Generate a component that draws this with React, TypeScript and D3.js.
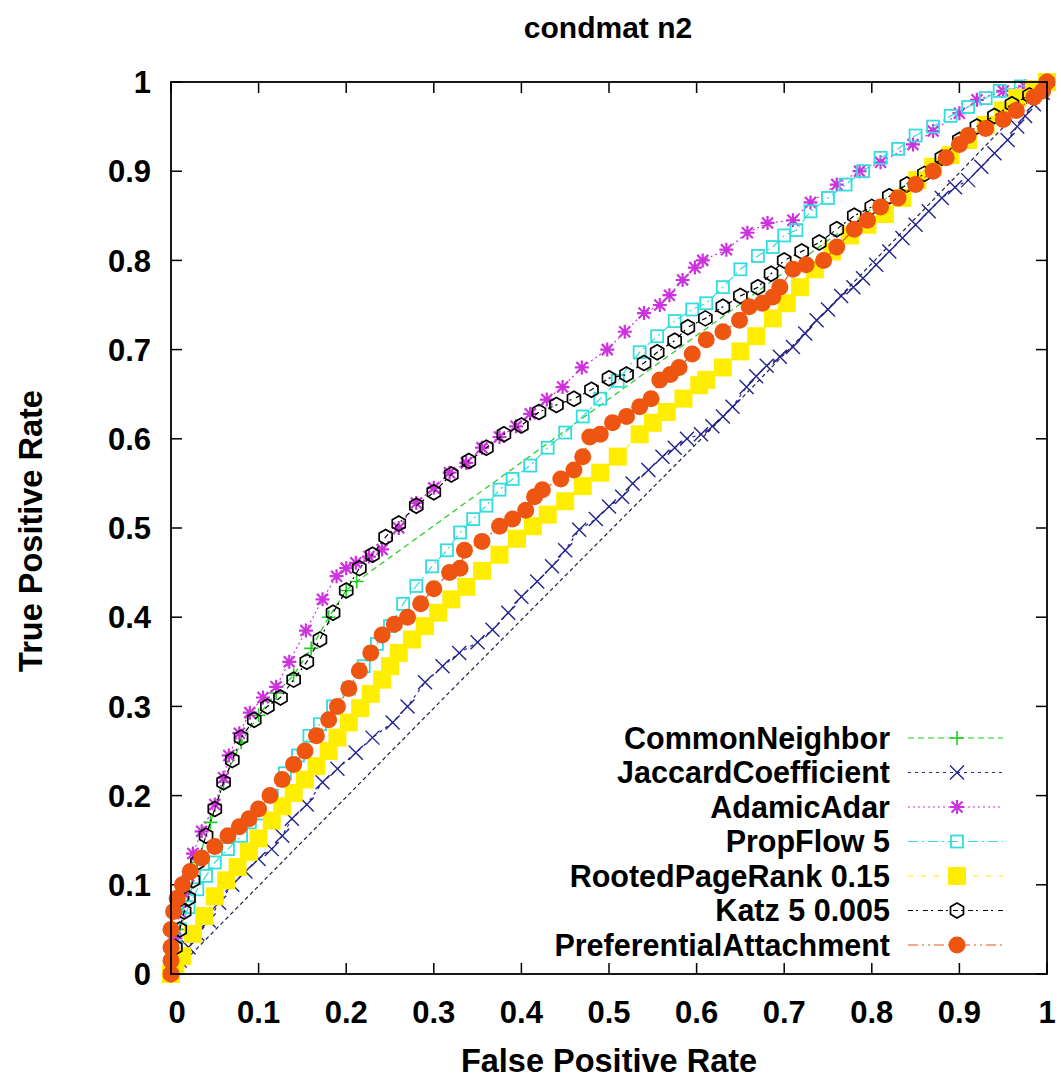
import React from "react";
import * as d3 from "d3";

type Pt = [number, number];

const chartTitle = "condmat n2";
const xLabel = "False Positive Rate";
const yLabel = "True Positive Rate";

const tickValues = [0, 0.1, 0.2, 0.3, 0.4, 0.5, 0.6, 0.7, 0.8, 0.9, 1];
const tickLabels = ["0", "0.1", "0.2", "0.3", "0.4", "0.5", "0.6", "0.7", "0.8", "0.9", "1"];

// [false positive rate, true positive rate]
const commonNeighbor: Pt[] = [
  [0, 0], [0.01, 0.05], [0.02, 0.09], [0.03, 0.125], [0.045, 0.17], [0.06, 0.215], [0.08, 0.26],
  [0.1, 0.29], [0.12, 0.315], [0.14, 0.335], [0.16, 0.365], [0.18, 0.4], [0.2, 0.43], [0.212, 0.44], [1, 1],
];

const jaccardCoefficient: Pt[] = [
  [0, 0], [0.01, 0.015], [0.02, 0.03], [0.03, 0.045], [0.043, 0.06], [0.055, 0.08], [0.07, 0.1], [0.085, 0.115],
  [0.1, 0.129], [0.115, 0.14], [0.127, 0.155], [0.138, 0.174], [0.155, 0.19], [0.173, 0.215], [0.19, 0.23],
  [0.211, 0.248], [0.23, 0.265], [0.253, 0.282], [0.27, 0.3], [0.29, 0.327], [0.31, 0.345], [0.329, 0.36],
  [0.35, 0.372], [0.367, 0.386], [0.385, 0.405], [0.4, 0.423], [0.418, 0.44], [0.435, 0.457], [0.45, 0.475],
  [0.466, 0.498], [0.485, 0.51], [0.5, 0.524], [0.515, 0.535], [0.527, 0.55], [0.545, 0.565], [0.561, 0.58],
  [0.575, 0.59], [0.589, 0.6], [0.605, 0.605], [0.618, 0.614], [0.63, 0.625], [0.641, 0.636], [0.657, 0.658],
  [0.668, 0.67], [0.68, 0.682], [0.695, 0.692], [0.71, 0.703], [0.724, 0.718], [0.737, 0.733], [0.75, 0.745],
  [0.765, 0.76], [0.779, 0.77], [0.79, 0.78], [0.805, 0.795], [0.82, 0.81], [0.835, 0.825], [0.85, 0.84],
  [0.865, 0.855], [0.88, 0.87], [0.895, 0.882], [0.91, 0.89], [0.925, 0.905], [0.94, 0.92], [0.955, 0.935],
  [0.966, 0.95], [0.975, 0.962], [0.985, 0.975], [0.995, 0.988], [1, 1],
];

// long tie segment running near the diagonal
const jaccardTies: Pt[] = [[0, 0], [0.021, 0.02], [0.318, 0.316], [0.653, 0.647], [1, 1]];

const adamicAdar: Pt[] = [
  [0, 0], [0.005, 0.04], [0.01, 0.07], [0.015, 0.09], [0.02, 0.11], [0.025, 0.135], [0.035, 0.16], [0.05, 0.19],
  [0.06, 0.22], [0.066, 0.245], [0.078, 0.27], [0.09, 0.293], [0.105, 0.31], [0.12, 0.322], [0.135, 0.35],
  [0.154, 0.385], [0.173, 0.42], [0.189, 0.446], [0.2, 0.455], [0.211, 0.461], [0.226, 0.468], [0.241, 0.476],
  [0.26, 0.5], [0.28, 0.528], [0.3, 0.545], [0.318, 0.562], [0.337, 0.573], [0.355, 0.59], [0.375, 0.602],
  [0.394, 0.614], [0.41, 0.628], [0.429, 0.644], [0.447, 0.658], [0.469, 0.68], [0.498, 0.7], [0.518, 0.72],
  [0.54, 0.741], [0.558, 0.75], [0.569, 0.761], [0.584, 0.778], [0.598, 0.792], [0.607, 0.8], [0.634, 0.812],
  [0.658, 0.831], [0.681, 0.842], [0.71, 0.845], [0.73, 0.865], [0.76, 0.885], [0.786, 0.9], [0.81, 0.91],
  [0.847, 0.93], [0.87, 0.945], [0.9, 0.965], [0.92, 0.98], [0.95, 0.99], [0.975, 0.995], [1, 1],
];

const propFlow: Pt[] = [
  [0, 0], [0.005, 0.03], [0.01, 0.05], [0.02, 0.075], [0.03, 0.095], [0.04, 0.11], [0.05, 0.125], [0.065, 0.14],
  [0.08, 0.155], [0.09, 0.17], [0.1, 0.18], [0.115, 0.2], [0.13, 0.225], [0.145, 0.245], [0.158, 0.267],
  [0.17, 0.28], [0.185, 0.3], [0.203, 0.32], [0.22, 0.345], [0.235, 0.37], [0.25, 0.39], [0.265, 0.415],
  [0.28, 0.435], [0.298, 0.457], [0.315, 0.475], [0.33, 0.495], [0.345, 0.51], [0.36, 0.525], [0.375, 0.543],
  [0.39, 0.555], [0.41, 0.57], [0.43, 0.59], [0.45, 0.607], [0.47, 0.625], [0.49, 0.645], [0.51, 0.665],
  [0.535, 0.697], [0.555, 0.715], [0.575, 0.732], [0.595, 0.745], [0.611, 0.752], [0.63, 0.77], [0.65, 0.79],
  [0.67, 0.805], [0.687, 0.815], [0.7, 0.828], [0.714, 0.834], [0.73, 0.855], [0.75, 0.87], [0.77, 0.885],
  [0.79, 0.9], [0.81, 0.915], [0.83, 0.925], [0.85, 0.94], [0.87, 0.95], [0.89, 0.962], [0.91, 0.972],
  [0.93, 0.982], [0.946, 0.99], [0.97, 0.995], [1, 1],
];

const rootedPageRank: Pt[] = [
  [0, 0], [0.005, 0.01], [0.013, 0.02], [0.025, 0.045], [0.038, 0.065], [0.05, 0.087], [0.063, 0.105],
  [0.076, 0.12], [0.089, 0.137], [0.1, 0.152], [0.115, 0.172], [0.127, 0.188], [0.14, 0.203], [0.153, 0.218],
  [0.166, 0.233], [0.18, 0.25], [0.19, 0.265], [0.203, 0.282], [0.216, 0.298], [0.228, 0.314], [0.241, 0.33],
  [0.25, 0.345], [0.26, 0.36], [0.275, 0.375], [0.29, 0.39], [0.305, 0.405], [0.32, 0.42], [0.337, 0.434],
  [0.355, 0.452], [0.375, 0.47], [0.395, 0.488], [0.413, 0.502], [0.43, 0.515], [0.45, 0.53], [0.47, 0.547],
  [0.49, 0.562], [0.51, 0.58], [0.535, 0.605], [0.55, 0.618], [0.566, 0.63], [0.585, 0.645], [0.603, 0.66],
  [0.611, 0.666], [0.63, 0.68], [0.65, 0.698], [0.668, 0.715], [0.687, 0.735], [0.703, 0.752], [0.718, 0.77],
  [0.735, 0.79], [0.755, 0.81], [0.775, 0.828], [0.795, 0.84], [0.815, 0.852], [0.835, 0.87], [0.852, 0.89],
  [0.87, 0.905], [0.89, 0.918], [0.91, 0.935], [0.93, 0.952], [0.95, 0.968], [0.966, 0.982], [0.985, 0.992],
  [1, 1],
];

const katz: Pt[] = [
  [0, 0], [0.005, 0.03], [0.01, 0.05], [0.015, 0.07], [0.02, 0.085], [0.025, 0.105], [0.03, 0.125], [0.04, 0.155],
  [0.05, 0.185], [0.06, 0.215], [0.07, 0.24], [0.08, 0.265], [0.095, 0.285], [0.11, 0.3], [0.125, 0.31],
  [0.14, 0.33], [0.155, 0.35], [0.17, 0.375], [0.185, 0.405], [0.2, 0.43], [0.215, 0.455], [0.23, 0.47],
  [0.245, 0.49], [0.26, 0.505], [0.28, 0.525], [0.3, 0.54], [0.32, 0.56], [0.34, 0.575], [0.36, 0.59],
  [0.38, 0.605], [0.4, 0.615], [0.42, 0.63], [0.44, 0.638], [0.46, 0.645], [0.48, 0.655], [0.5, 0.668],
  [0.52, 0.672], [0.54, 0.685], [0.555, 0.697], [0.575, 0.71], [0.59, 0.725], [0.61, 0.735], [0.63, 0.748],
  [0.65, 0.76], [0.67, 0.77], [0.685, 0.785], [0.7, 0.8], [0.72, 0.81], [0.74, 0.82], [0.76, 0.835],
  [0.78, 0.85], [0.8, 0.86], [0.82, 0.872], [0.84, 0.885], [0.86, 0.897], [0.88, 0.915], [0.9, 0.935],
  [0.92, 0.95], [0.94, 0.962], [0.96, 0.975], [0.98, 0.985], [1, 1],
];

const preferentialAttachment: Pt[] = [
  [0, 0], [0, 0.015], [0, 0.03], [0, 0.05], [0.003, 0.07], [0.007, 0.085], [0.013, 0.1], [0.022, 0.115],
  [0.035, 0.13], [0.05, 0.143], [0.065, 0.155], [0.078, 0.165], [0.089, 0.174], [0.1, 0.185], [0.113, 0.2],
  [0.127, 0.218], [0.14, 0.235], [0.153, 0.25], [0.166, 0.267], [0.18, 0.285], [0.19, 0.3], [0.203, 0.32],
  [0.215, 0.34], [0.228, 0.36], [0.241, 0.38], [0.255, 0.392], [0.27, 0.4], [0.285, 0.415], [0.3, 0.432],
  [0.318, 0.45], [0.33, 0.455], [0.335, 0.475], [0.355, 0.485], [0.375, 0.502], [0.39, 0.51], [0.405, 0.52],
  [0.415, 0.535], [0.424, 0.543], [0.445, 0.555], [0.46, 0.565], [0.47, 0.58], [0.478, 0.602], [0.49, 0.605],
  [0.504, 0.618], [0.52, 0.625], [0.535, 0.636], [0.548, 0.645], [0.558, 0.666], [0.57, 0.672], [0.58, 0.68],
  [0.595, 0.695], [0.611, 0.711], [0.63, 0.72], [0.649, 0.733], [0.66, 0.748], [0.675, 0.752], [0.687, 0.759],
  [0.695, 0.77], [0.71, 0.79], [0.725, 0.795], [0.745, 0.8], [0.76, 0.815], [0.78, 0.835], [0.795, 0.845],
  [0.81, 0.86], [0.83, 0.87], [0.85, 0.885], [0.87, 0.9], [0.885, 0.915], [0.9, 0.93], [0.91, 0.94],
  [0.93, 0.948], [0.95, 0.958], [0.965, 0.968], [0.985, 0.983], [0.995, 0.99], [1, 1],
];

const legendNames = [
  "CommonNeighbor",
  "JaccardCoefficient",
  "AdamicAdar",
  "PropFlow 5",
  "RootedPageRank 0.15",
  "Katz 5 0.005",
  "PreferentialAttachment",
];

type MarkerKind = "plus" | "cross" | "star" | "square" | "fsquare" | "hexagon" | "fcircle";

const series = [
  { name: legendNames[0], data: commonNeighbor, color: "#22cc22", dash: "6,4", marker: "plus" as MarkerKind },
  { name: legendNames[1], data: jaccardCoefficient, color: "#23238c", dash: "3,4", marker: "cross" as MarkerKind },
  { name: legendNames[2], data: adamicAdar, color: "#cc33dd", dash: "2,3", marker: "star" as MarkerKind },
  { name: legendNames[3], data: propFlow, color: "#33dddd", dash: "10,4,2,4", marker: "square" as MarkerKind },
  { name: legendNames[4], data: rootedPageRank, color: "#ffee00", dash: "5,8", marker: "fsquare" as MarkerKind },
  { name: legendNames[5], data: katz, color: "#000000", dash: "5,3,2,5", marker: "hexagon" as MarkerKind },
  { name: legendNames[6], data: preferentialAttachment, color: "#ee5511", dash: "10,4,2,4,2,4", marker: "fcircle" as MarkerKind },
];

const FONT = "'Liberation Sans', Arial, Helvetica, sans-serif";

function Marker({ kind, x, y, color }: { kind: MarkerKind; x: number; y: number; color: string }) {
  const r = 7;
  if (kind === "plus")
    return <path d={`M${x - r},${y}H${x + r}M${x},${y - r}V${y + r}`} stroke={color} strokeWidth={1.6} fill="none" />;
  if (kind === "cross")
    return (
      <path
        d={`M${x - r},${y - r}L${x + r},${y + r}M${x - r},${y + r}L${x + r},${y - r}`}
        stroke={color}
        strokeWidth={1.4}
        fill="none"
      />
    );
  if (kind === "star")
    return (
      <path
        d={`M${x - r},${y}H${x + r}M${x},${y - r}V${y + r}M${x - 5.5},${y - 5.5}L${x + 5.5},${y + 5.5}M${x - 5.5},${y + 5.5}L${x + 5.5},${y - 5.5}`}
        stroke={color}
        strokeWidth={2.2}
        fill="none"
      />
    );
  if (kind === "square")
    return <rect x={x - 6} y={y - 6} width={12} height={12} stroke={color} strokeWidth={1.8} fill="none" />;
  if (kind === "fsquare") return <rect x={x - 9} y={y - 9} width={18} height={18} fill={color} />;
  if (kind === "fcircle") return <circle cx={x} cy={y} r={8.5} fill={color} />;
  const pts = d3.range(6).map((i) => {
    const a = (Math.PI / 3) * i + Math.PI / 6;
    return `${x + 7.5 * Math.cos(a)},${y + 7.5 * Math.sin(a)}`;
  });
  return <polygon points={pts.join(" ")} stroke={color} strokeWidth={1.7} fill="none" />;
}

export default function App() {
  const x = d3.scaleLinear().domain([0, 1]).range([171, 1047]);
  const y = d3.scaleLinear().domain([0, 1]).range([974, 82]);
  const line = d3
    .line<Pt>()
    .x((d) => x(d[0]))
    .y((d) => y(d[1]));

  const [x0, x1] = x.range();
  const [y0, y1] = y.range();
  const tickLen = 11;

  const legendX = 890;
  const legendY = 738;
  const legendStep = 34.5;

  return (
    <svg
      width={1061}
      height={1078}
      style={{ position: "absolute", left: 0, top: 0, background: "#fff" }}
      fontFamily={FONT}
      fontWeight="bold"
    >
      <rect width={1061} height={1078} fill="#fff" />
      <text x={608} y={38} textAnchor="middle" fontSize={30}>
        {chartTitle}
      </text>

      {/* ticks on all four sides, pointing inward */}
      <g stroke="#000" strokeWidth={1.5}>
        {tickValues.map((t) => (
          <g key={`t${t}`}>
            <line x1={x(t)} x2={x(t)} y1={y0} y2={y0 - tickLen} />
            <line x1={x(t)} x2={x(t)} y1={y1} y2={y1 + tickLen} />
            <line x1={x0} x2={x0 + tickLen} y1={y(t)} y2={y(t)} />
            <line x1={x1} x2={x1 - tickLen} y1={y(t)} y2={y(t)} />
          </g>
        ))}
      </g>

      <g fontSize={31}>
        {tickValues.map((t, i) => (
          <text key={`yl${t}`} x={151} y={y(t)} dy="0.36em" textAnchor="end">
            {tickLabels[i]}
          </text>
        ))}
        {tickValues.map((t, i) => (
          <text key={`xl${t}`} x={x(t) + (i === 0 ? 6 : 0)} y={1023} textAnchor="middle">
            {tickLabels[i]}
          </text>
        ))}
      </g>

      <text x={609} y={1072} textAnchor="middle" fontSize={32.5}>
        {xLabel}
      </text>
      <text transform={`translate(42,531) rotate(-90)`} textAnchor="middle" fontSize={32.5}>
        {yLabel}
      </text>

      {/* curves */}
      <g>
        {series.map((s, i) => (
          <g key={s.name}>
            <path d={line(s.data) ?? ""} fill="none" stroke={s.color} strokeWidth={1.2} strokeDasharray={s.dash} />
            {i === 1 && (
              <path d={line(jaccardTies) ?? ""} fill="none" stroke="#222244" strokeWidth={1.2} strokeDasharray="4,3" />
            )}
            {s.data.map((d, j) => (
              <Marker key={j} kind={s.marker} x={x(d[0])} y={y(d[1])} color={s.color} />
            ))}
          </g>
        ))}
      </g>

      {/* legend */}
      <g fontSize={30.5}>
        {series.map((s, i) => {
          const cy = legendY + i * legendStep;
          return (
            <g key={`lg${s.name}`}>
              <rect x={900} y={cy - 15} width={110} height={30} fill="#fff" />
              <text x={legendX} y={cy} dy="0.36em" textAnchor="end" fill="#000">
                {s.name}
              </text>
              <line x1={908} x2={1003} y1={cy} y2={cy} stroke={s.color} strokeWidth={1.2} strokeDasharray={s.dash} />
              <Marker kind={s.marker} x={957} y={cy} color={s.color} />
            </g>
          );
        })}
      </g>

      {/* frame */}
      <rect x={x0} y={y1} width={x1 - x0} height={y0 - y1} fill="none" stroke="#000" strokeWidth={1.8} />
    </svg>
  );
}
